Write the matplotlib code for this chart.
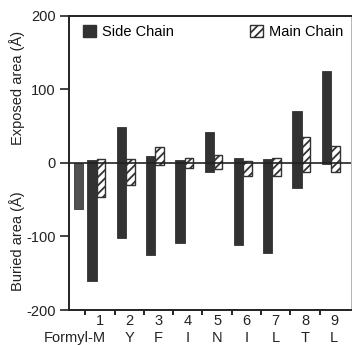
"""
Exposed / buried surface area per residue, side chain vs main chain
"""

import numpy as np
import matplotlib
matplotlib.use('Agg')
import matplotlib.pyplot as plt
from matplotlib.patches import Patch

plt.rcParams['font.family'] = ['Liberation Sans', 'DejaVu Sans']
plt.rcParams['axes.unicode_minus'] = False
plt.rcParams['hatch.linewidth'] = 1.3

# residue numbers and one-letter names
residues = [1, 2, 3, 4, 5, 6, 7, 8, 9]
names = ['Formyl-M', 'Y', 'F', 'I', 'N', 'I', 'L', 'T', 'L']

# areas (A^2)
side_exposed = [4, 49, 9, 4, 42, 6, 5, 70, 125]
side_buried = [-161, -102, -125, -109, -13, -112, -122, -34, -1]
main_exposed = [5, 5, 21, 6, 10, 2, 7, 35, 23]
main_buried = [-46, -30, -3, -7, -9, -18, -18, -12, -13]
formyl_exposed = 0
formyl_buried = -62

dark = '#323232'

fig = plt.figure(figsize=(3.52, 3.45), dpi=100)
ax = fig.add_axes([0.195, 0.101, 0.802, 0.854])

x = np.array(residues, dtype=float)
se = np.array(side_exposed)
sb = np.array(side_buried)
me = np.array(main_exposed)
mb = np.array(main_buried)

# formyl group sits to the left of residue 1
ax.bar(0.27, formyl_exposed - formyl_buried, bottom=formyl_buried, width=0.32,
       color='#505050', edgecolor='#3a3a3a', linewidth=0.6)
ax.bar(x - 0.27, se - sb, bottom=sb, width=0.32, color=dark,
       edgecolor=dark, linewidth=0.6)
ax.bar(x + 0.035, me - mb, bottom=mb, width=0.29, color='white',
       edgecolor=dark, hatch='////', linewidth=1.0)

ax.axhline(0, color='#222222', linewidth=1.2, zorder=5)

ax.set_xlim(-0.07, 9.57)
ax.set_ylim(-200, 200)
ax.set_yticks([-200, -100, 0, 100, 200])
ax.tick_params(axis='y', direction='out', length=6.5, width=1.2, pad=3,
               labelsize=10.5, colors='#222222')

ax.set_xticks(residues)
ax.set_xticklabels([str(r) for r in residues])
ax.set_xticks(np.arange(0.5, 9.0, 1.0), minor=True)
ax.tick_params(axis='x', which='major', length=0, pad=3, labelsize=10.5,
               colors='#222222')
ax.tick_params(axis='x', which='minor', direction='out', length=3.5, width=1.2)

# residue names below the numbers
for i, n in zip(residues, names):
    if n == 'Formyl-M':
        ax.text(i + 0.21, -0.095, n, transform=ax.get_xaxis_transform(),
                ha='right', va='center', fontsize=10.5, color='#222222')
    else:
        ax.text(i, -0.095, n, transform=ax.get_xaxis_transform(),
                ha='center', va='center', fontsize=10.5, color='#222222')

for s in ax.spines.values():
    s.set_linewidth(1.4)
    s.set_color('#222222')
ax.spines['right'].set_linewidth(0.6)
ax.spines['right'].set_color('#aaaaaa')

fig.text(0.048, 0.745, 'Exposed area (Å)', rotation=90, ha='center',
         va='center', fontsize=10.5, color='#222222')
fig.text(0.048, 0.301, 'Buried area (Å)', rotation=90, ha='center',
         va='center', fontsize=10.5, color='#222222')

fig.legend(handles=[Patch(facecolor=dark, edgecolor=dark)],
           labels=['Side Chain'], loc='upper left',
           bbox_to_anchor=(0.236, 0.928), frameon=False, borderpad=0,
           borderaxespad=0, handlelength=0.9, handleheight=0.85,
           handletextpad=0.4, fontsize=10.5)
fig.legend(handles=[Patch(facecolor='white', edgecolor=dark, hatch='////')],
           labels=['Main Chain'], loc='upper right',
           bbox_to_anchor=(0.976, 0.928), frameon=False, borderpad=0,
           borderaxespad=0, handlelength=0.9, handleheight=0.85,
           handletextpad=0.4, fontsize=10.5)

fig.savefig('out.png', dpi=100)
